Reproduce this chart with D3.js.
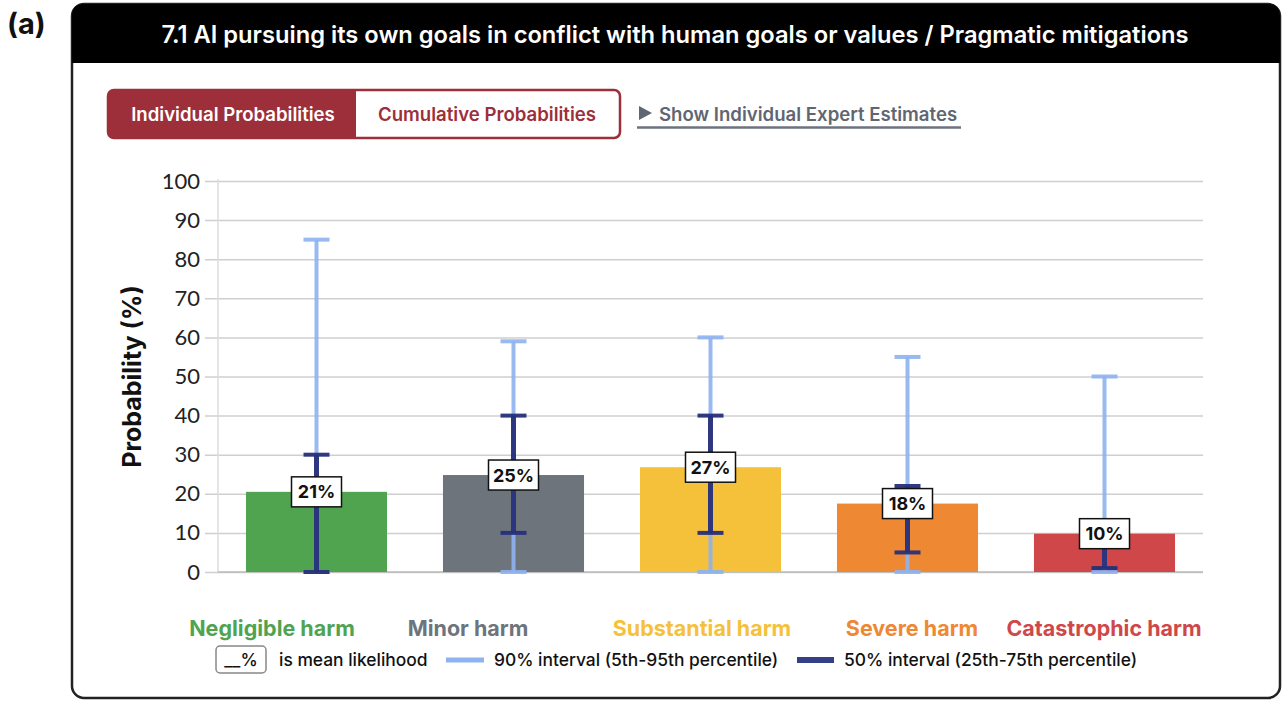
<!DOCTYPE html>
<meta charset="utf-8">
<style>
body { margin: 0; background: #fff; }
svg { display: block; font-family: "Inter", "Open Sans", sans-serif; }
.grid line { stroke: #cfcfcf; stroke-width: 1.5px; }
.grid path { display: none; }
.grid text { font-family: "Lato", sans-serif; font-size: 22px; fill: #222; }
</style>

<svg width="1284" height="701"></svg>
<script src="https://cdn.jsdelivr.net/npm/d3@7"></script>
<script>

// data
const categories = ["Negligible harm", "Minor harm", "Substantial harm", "Severe harm", "Catastrophic harm"];
const colors = ["#50a34f", "#6d747c", "#f5c13b", "#ef8832", "#d0474a"];
const meanValues = [20.5, 24.8, 26.8, 17.5, 9.8];
const p5 = [0, 0, 0, 0, 0];
const p95 = [85, 59, 60, 55, 50];
const p25 = [0, 10, 10, 5, 1];
const p75 = [30, 40, 40, 22, 8];
const yTicks = [0, 10, 20, 30, 40, 50, 60, 70, 80, 90, 100];

const title = "7.1 AI pursuing its own goals in conflict with human goals or values / Pragmatic mitigations";

let svg = d3.select("svg");

// outer card
svg.append("rect")
  .attr("x", 72).attr("y", 4).attr("width", 1208).attr("height", 694)
  .attr("rx", 12).attr("fill", "#fff").attr("stroke", "#222").attr("stroke-width", 2.5);
svg.append("path")
  .attr("d", "M72,63 V16 Q72,4 84,4 H1268 Q1280,4 1280,16 V63 Z")
  .attr("fill", "#000");
svg.append("text")
  .attr("x", 675).attr("y", 43).attr("text-anchor", "middle")
  .attr("fill", "#fff").attr("font-size", 23.7).attr("font-weight", 600)
  .text(title);

svg.append("text")
  .attr("x", 7).attr("y", 34)
  .attr("font-size", 29).attr("font-weight", 700).attr("fill", "#111")
  .text("(a)");

// toggle buttons
svg.append("rect")
  .attr("x", 108).attr("y", 90).attr("width", 512).attr("height", 48)
  .attr("rx", 6).attr("fill", "#fff").attr("stroke", "#9c2f3a").attr("stroke-width", 2.5);
svg.append("path")
  .attr("d", "M356,90 H114 Q108,90 108,96 V132 Q108,138 114,138 H356 Z")
  .attr("fill", "#9c2f3a");
svg.append("text")
  .attr("x", 233).attr("y", 121).attr("text-anchor", "middle")
  .attr("fill", "#fff").attr("font-size", 18.6).attr("font-weight", 600)
  .text("Individual Probabilities");
svg.append("text")
  .attr("x", 487).attr("y", 121).attr("text-anchor", "middle")
  .attr("fill", "#9c2f3a").attr("font-size", 18.6).attr("font-weight", 600)
  .text("Cumulative Probabilities");

svg.append("path")
  .attr("d", "M639,106 L652,113 L639,120 Z").attr("fill", "#5f6672");
svg.append("text")
  .attr("x", 659).attr("y", 121)
  .attr("fill", "#5f6672").attr("font-size", 18.6).attr("font-weight", 600)
  .text("Show Individual Expert Estimates");
svg.append("line")
  .attr("x1", 637).attr("x2", 961).attr("y1", 127.5).attr("y2", 127.5)
  .attr("stroke", "#6c7280").attr("stroke-width", 2.5);

// plot area
const plotLeft = 218, plotRight = 1203, plotTop = 181, plotBottom = 572;

let x = d3.scaleBand().domain(categories).range([plotLeft, plotRight]).paddingInner(0.284).paddingOuter(0.142);
let y = d3.scaleLinear().domain([0, 100]).range([plotBottom, plotTop]);

svg.append("g").attr("class", "grid")
  .attr("transform", `translate(${plotLeft},0)`)
  .call(d3.axisLeft(y).tickValues(yTicks).tickSize(-(plotRight - plotLeft)).tickPadding(18))
  .call(g => g.selectAll("line").attr("x1", -13));

svg.append("line")
  .attr("x1", plotLeft).attr("x2", plotLeft).attr("y1", plotTop - 2).attr("y2", plotBottom)
  .attr("stroke", "#ddd").attr("stroke-width", 1.5);
svg.append("line")
  .attr("x1", plotLeft).attr("x2", plotRight).attr("y1", plotBottom).attr("y2", plotBottom)
  .attr("stroke", "#bbb").attr("stroke-width", 1.5);

svg.append("text")
  .attr("transform", `translate(141,${(plotTop + plotBottom) / 2}) rotate(-90)`)
  .attr("text-anchor", "middle")
  .attr("font-size", 25).attr("font-weight", 700).attr("fill", "#111")
  .text("Probability (%)");

// bars
svg.append("g").selectAll("rect")
  .data(categories)
  .join("rect")
  .attr("x", d => x(d))
  .attr("width", x.bandwidth())
  .attr("y", (d, i) => y(meanValues[i]))
  .attr("height", (d, i) => y(0) - y(meanValues[i]))
  .attr("fill", (d, i) => colors[i]);

// error bars
const capW = 26;
function whisker(g, lo, hi, color, w, op) {
  g.selectAll(null).data(categories).join("line")
    .attr("x1", d => x(d) + x.bandwidth() / 2).attr("x2", d => x(d) + x.bandwidth() / 2)
    .attr("y1", (d, i) => y(lo[i])).attr("y2", (d, i) => y(hi[i]))
    .attr("stroke", color).attr("stroke-width", w).attr("opacity", op);
  [lo, hi].forEach(arr => {
    g.selectAll(null).data(categories).join("line")
      .attr("x1", d => x(d) + x.bandwidth() / 2 - capW / 2)
      .attr("x2", d => x(d) + x.bandwidth() / 2 + capW / 2)
      .attr("y1", (d, i) => y(arr[i])).attr("y2", (d, i) => y(arr[i]))
      .attr("stroke", color).attr("stroke-width", 4).attr("opacity", op);
  });
}
let errs = svg.append("g");
whisker(errs, p5, p95, "#8fb3f0", 4, 0.9);
whisker(errs, p25, p75, "#27307a", 5, 0.95);

// mean labels
let labels = svg.append("g").selectAll("g")
  .data(categories)
  .join("g")
  .attr("transform", (d, i) => `translate(${x(d) + x.bandwidth() / 2},${y(meanValues[i])})`);
labels.append("rect")
  .attr("x", -25).attr("y", -15).attr("width", 50).attr("height", 30)
  .attr("fill", "#fff").attr("stroke", "#111").attr("stroke-width", 1.5);
labels.append("text")
  .attr("text-anchor", "middle").attr("dy", "0.36em")
  .attr("font-size", 18).attr("font-weight", 700).attr("fill", "#111")
  .text((d, i) => Math.round(meanValues[i]) + "%");

// category names
const nameX = [272, 468, 702, 912, 1104];
svg.append("g").selectAll("text")
  .data(categories)
  .join("text")
  .attr("x", (d, i) => nameX[i]).attr("y", 636)
  .attr("text-anchor", "middle")
  .attr("font-size", 21.5).attr("font-weight", 700)
  .attr("fill", (d, i) => colors[i])
  .text(d => d);

// legend
let leg = svg.append("g").attr("font-size", 17.4).attr("font-weight", 500).attr("fill", "#111");
leg.append("rect")
  .attr("x", 216).attr("y", 646).attr("width", 50).attr("height", 27)
  .attr("rx", 4).attr("fill", "#fff").attr("stroke", "#888").attr("stroke-width", 1.5);
leg.append("text").attr("x", 241).attr("y", 666).attr("text-anchor", "middle").text("__%");
leg.append("text").attr("x", 279).attr("y", 666).text("is mean likelihood");
leg.append("line").attr("x1", 446).attr("x2", 484).attr("y1", 660).attr("y2", 660)
  .attr("stroke", "#8fb3f0").attr("stroke-width", 5);
leg.append("text").attr("x", 494).attr("y", 666).text("90% interval (5th-95th percentile)");
leg.append("line").attr("x1", 797).attr("x2", 834).attr("y1", 660).attr("y2", 660)
  .attr("stroke", "#353f86").attr("stroke-width", 6);
leg.append("text").attr("x", 844).attr("y", 666).text("50% interval (25th-75th percentile)");

</script>
